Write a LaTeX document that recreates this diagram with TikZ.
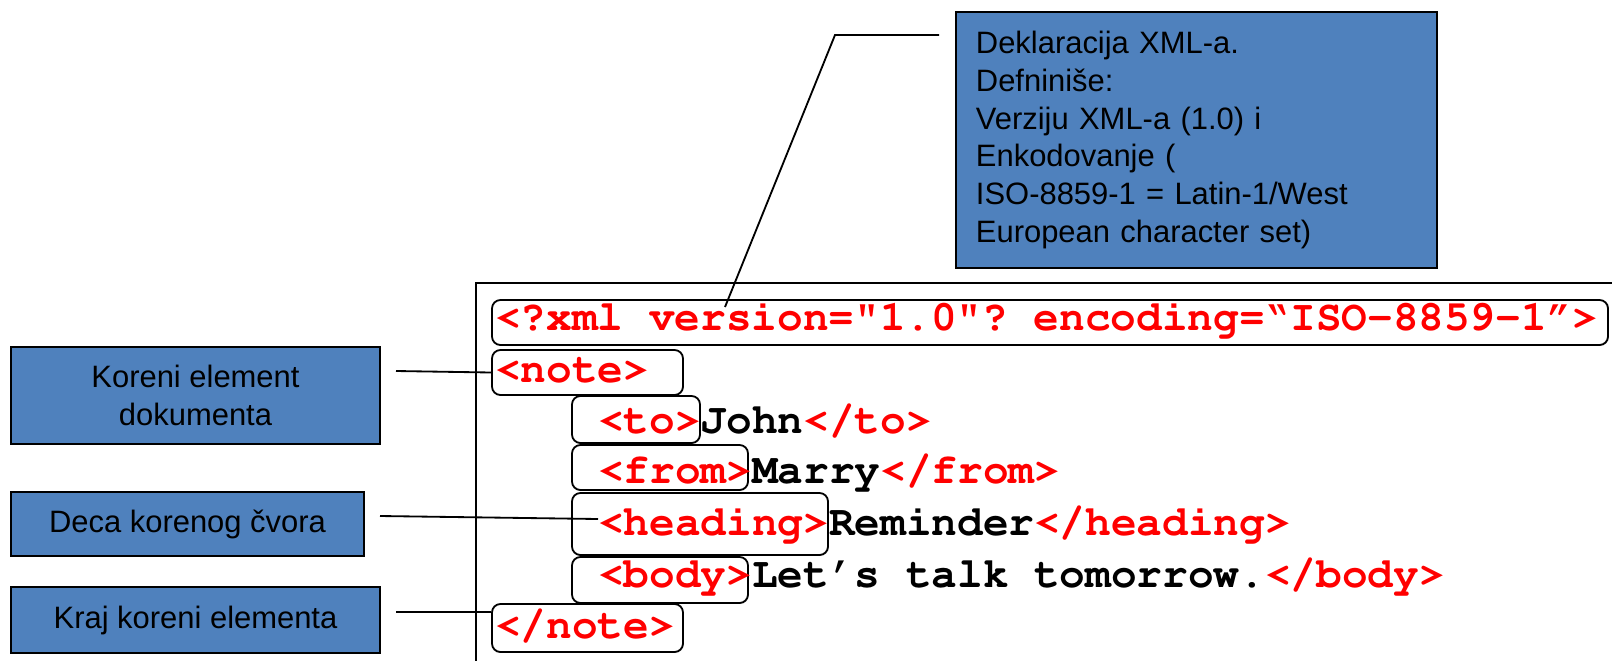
\documentclass[tikz,border=0pt]{standalone}
\usepackage[T1]{fontenc}
\usepackage{fontspec}
\setmainfont{Liberation Sans}
\usetikzlibrary{fit,positioning}
\definecolor{noteblue}{HTML}{4F81BD}
\definecolor{tagred}{HTML}{FF0000}
\newcommand{\tg}[1]{\textcolor{tagred}{#1}}
\newcommand{\codefont}{\fontencoding{T1}\fontfamily{pcr}\fontseries{b}\fontsize{30.4}{36}\selectfont\frenchspacing}
\tikzset{>=latex,
  note/.style={draw=black, line width=1.6pt, fill=noteblue, inner sep=0pt,
    align=center, font=\fontsize{22}{27}\selectfont},
  tagbox/.style={draw=black, line width=1.3pt, rounded corners=6pt, inner sep=0pt},
  code/.style={anchor=base west, inner sep=0pt, text height=0.8cm, text depth=0cm,
    font=\codefont},
  wire/.style={draw=black, line width=1.3pt},
  frame/.style={draw=black, line width=1.3pt}
}

\begin{document}
\begin{tikzpicture}[x=0.025cm,y=-0.025cm]

  \useasboundingbox (0,0) rectangle (1612,660);
  \clip (0,0) rectangle (1612,660);

  % Listing
  \draw[frame] (476,700) |- (1700,283);

  \node[tagbox, fit={(492,300)(1608,345)}] (bdecl)    {};
  \node[tagbox, fit={(492,350)(683,395)}]  (bnote)    {};
  \node[tagbox, fit={(572,396)(700,443)}]  (bto)      {};
  \node[tagbox, fit={(572,445)(748,490)}]  (bfrom)    {};
  \node[tagbox, fit={(572,493)(828,555)}]  (bhead)    {};
  \node[tagbox, fit={(572,557)(748,603)}]  (bbody)    {};
  \node[tagbox, fit={(492,604)(683,652)}]  (bendnote) {};

  \node[code] (tdecl)    at (495,330) {\tg{<?xml version="1.0"? encoding=\textquotedblleft ISO-8859-1\textquotedblright>}};
  \node[code] (tnote)    at (495,382) {\tg{<note>}};
  \node[code] (tto)      at (598,433) {\tg{<to>}John\tg{</to>}};
  \node[code] (tfrom)    at (598,483) {\tg{<from>}Marry\tg{</from>}};
  \node[code] (thead)    at (598,535) {\tg{<heading>}Reminder\tg{</heading>}};
  \node[code] (tbody)    at (598,587) {\tg{<body>}Let\textquoteright s talk tomorrow.\tg{</body>}};
  \node[code] (tendnote) at (495,638) {\tg{</note>}};

  % Notes
  \node[note, text width=11.025cm, inner xsep=0.5cm, minimum height=6.4cm, align=left]
    (deklar) at (1196.5,140) {Deklaracija XML-a.\\Defniniše:\\Verziju XML-a (1.0) i\\Enkodovanje (\\ISO-8859-1 = Latin-1/West\\European character set)};
  \node[note, minimum width=9.225cm, minimum height=2.425cm] (koren) at (195.5,395.5) {Koreni element\\dokumenta};
  \node[note, minimum width=8.825cm, minimum height=1.6cm]   (deca)  at (187.5,524)   {Deca korenog čvora};
  \node[note, minimum width=9.225cm, minimum height=1.65cm]  (kraj)  at (195.5,620)   {Kraj koreni elementa};

  % Edges
  \coordinate (pin0) at (939,35);
  \coordinate (bend0) at (835,35);
  \coordinate (tip0) at (725,307);
  \coordinate (pin1) at (396,371);
  \coordinate (pin2) at (380,516);
  \coordinate (pin3) at (396,612);

  \draw[wire] (pin0) -- (bend0) -- (tip0);
  \draw[wire] (pin1) -- (bnote.west);
  \draw[wire] (pin2) -- (thead.west);
  \draw[wire] (pin3) -- (pin3 -| bendnote.west);

\end{tikzpicture}
\end{document}
